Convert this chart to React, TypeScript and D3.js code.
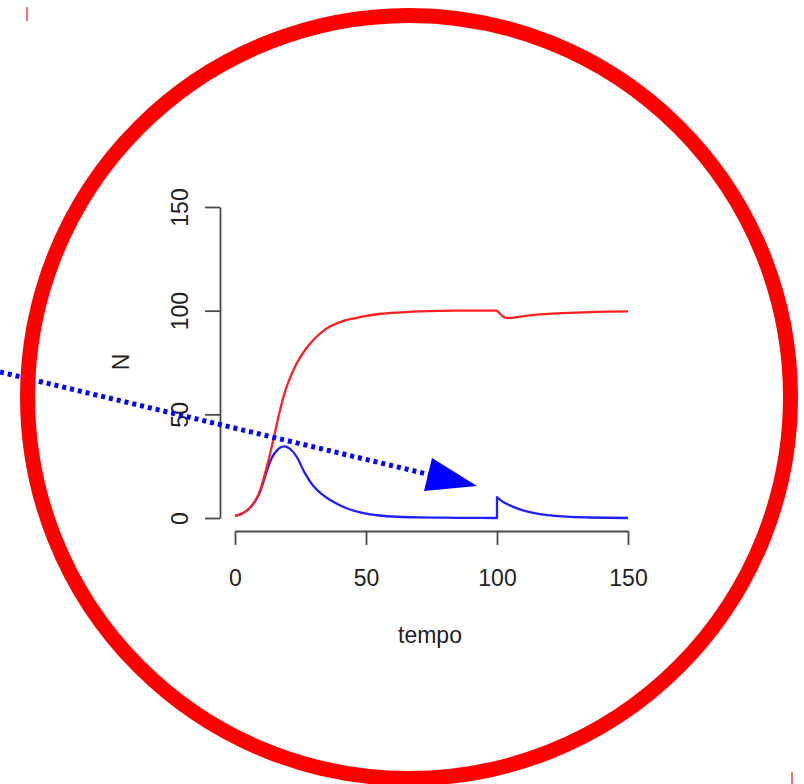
import React, { useEffect, useRef } from 'react';
import * as d3 from 'd3';

// prey (red) and predator (blue)
const redTempo = [0, 3, 6, 9, 12, 14.5, 17, 19.5, 23.5, 27, 30, 33, 36, 42, 49, 55, 62, 74, 85, 100, 103, 105, 108, 112.5, 118, 125, 138, 150];
const redN = [1, 2.3, 5.3, 11.5, 24, 37, 51, 62.5, 74.5, 81.5, 86, 89.5, 92.2, 95.3, 97.2, 98.4, 99.1, 99.8, 100, 100, 96.7, 96.5, 97, 97.7, 98.3, 98.8, 99.4, 99.7];

const blueTempo = [0, 3, 6, 9, 12, 13.5, 15, 17, 19, 21, 23.5, 26.5, 30, 33, 36.3, 42.6, 49, 55, 62, 70, 80, 90, 100, 100, 102, 104, 106, 109, 112.5, 117, 122, 128, 135, 150];
const blueN = [1, 2.3, 5.3, 11, 22, 27.5, 31, 33.8, 34.5, 33.3, 29.6, 22, 15.3, 11.6, 8.7, 4.7, 2.3, 1.2, 0.6, 0.3, 0.15, 0.05, 0, 10, 8, 6.6, 5.5, 4, 2.8, 1.7, 1, 0.5, 0.25, 0];

const xTicks = [0, 50, 100, 150];
const yTicks = [0, 50, 100, 150];

const FONT = '"Liberation Sans", Arial, Helvetica, sans-serif';

const App = () => {
  const svgRef = useRef(null);

  useEffect(() => {
    const svg = d3.select(svgRef.current);
    svg.selectAll('*').remove();

    const x = d3.scaleLinear().domain([0, 150]).range([235, 628]);
    const y = d3.scaleLinear().domain([0, 150]).range([518, 207]);

    // y axis, R style with rotated labels
    const gy = svg.append('g')
      .attr('transform', 'translate(220,0)')
      .call(d3.axisLeft(y).tickValues(yTicks).tickSize(15).tickSizeOuter(0).tickFormat(d3.format('d')));
    gy.selectAll('path, line').attr('stroke', '#4a4a4a').attr('stroke-width', 1.8);
    gy.selectAll('text')
      .attr('x', null).attr('dy', null)
      .attr('transform', 'translate(-32,0) rotate(-90)')
      .attr('text-anchor', 'middle')
      .attr('font-family', FONT)
      .attr('font-size', 23)
      .attr('fill', '#222');

    // x axis
    const gx = svg.append('g')
      .attr('transform', 'translate(0,531)')
      .call(d3.axisBottom(x).tickValues(xTicks).tickSize(14).tickSizeOuter(0).tickPadding(0).tickFormat(d3.format('d')));
    gx.selectAll('path, line').attr('stroke', '#4a4a4a').attr('stroke-width', 1.8);
    gx.selectAll('text')
      .attr('y', 55).attr('dy', null)
      .attr('font-family', FONT)
      .attr('font-size', 23)
      .attr('fill', '#222');
    svg.selectAll('.domain').attr('fill', 'none');

    // axis titles
    svg.append('text')
      .attr('x', 430).attr('y', 643)
      .attr('text-anchor', 'middle')
      .attr('font-family', FONT).attr('font-size', 23).attr('fill', '#222')
      .text('tempo');
    svg.append('text')
      .attr('transform', 'translate(129,362) rotate(-90)')
      .attr('text-anchor', 'middle')
      .attr('font-family', FONT).attr('font-size', 23).attr('fill', '#222')
      .text('N');

    const smooth = d3.line().curve(d3.curveCatmullRom.alpha(0.5));
    const pts = (ts: number[], ns: number[]) => ts.map((t, i) => [x(t), y(ns[i])] as [number, number]);

    // split each series at tempo 100 so the disturbance stays sharp
    const drawSeries = (ts: number[], ns: number[], color: string) => {
      const all = pts(ts, ns);
      const first = ts.indexOf(100);
      const last = ts.lastIndexOf(100);
      const d = smooth(all.slice(0, first + 1)) +
        (last > first ? 'L' + all[last].join(',') : '') +
        smooth(all.slice(last)).replace(/^M[^CLQ]*/, '');
      svg.append('path')
        .attr('d', d)
        .attr('fill', 'none')
        .attr('stroke', color)
        .attr('stroke-width', 2.3)
        .attr('stroke-linejoin', 'round');
    };

    drawSeries(blueTempo, blueN, '#1f1fff');
    drawSeries(redTempo, redN, '#ff2020');

    // annotation: dotted arrow
    svg.append('line')
      .attr('x1', 0).attr('y1', 372)
      .attr('x2', 429).attr('y2', 474.5)
      .attr('stroke', '#0000ff')
      .attr('stroke-width', 5)
      .attr('stroke-dasharray', '4 4');
    svg.append('polygon')
      .attr('points', '432,458 424,491 477,486')
      .attr('fill', '#0000ff');

    // annotation: red circle
    svg.append('circle')
      .attr('cx', 409).attr('cy', 397).attr('r', 381.5)
      .attr('fill', 'none')
      .attr('stroke', '#ff0000')
      .attr('stroke-width', 15);

    // little crop marks
    svg.append('line').attr('x1', 27).attr('y1', 7).attr('x2', 27).attr('y2', 21)
      .attr('stroke', '#ee2222').attr('stroke-width', 1.3);
    svg.append('line').attr('x1', 792).attr('y1', 772).attr('x2', 792).attr('y2', 784)
      .attr('stroke', '#ee2222').attr('stroke-width', 1.3);
  }, []);

  return (
    <svg
      ref={svgRef}
      width={804}
      height={784}
      style={{ position: 'absolute', left: 0, top: 0, background: '#fff' }}
    />
  );
};

export default App;
